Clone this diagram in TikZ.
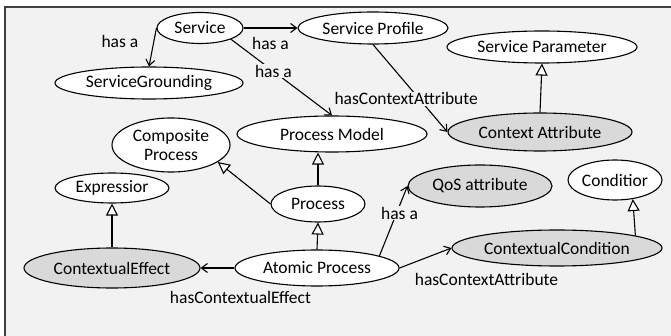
\documentclass[tikz,border=0pt]{standalone}
\usepackage{fontspec}
\setmainfont{Carlito}
\usetikzlibrary{shapes.geometric, arrows.meta}
\definecolor{paper}{HTML}{F2F2F2}
\definecolor{shade}{HTML}{D9D9D9}

\begin{document}
\begin{tikzpicture}[x=1pt, y=-1pt,
    concept/.style={ellipse, draw, fill=white, line width=1.1pt, inner sep=0pt, align=center, font=\fontsize{17.5}{19}\selectfont},
    ctx/.style={concept, fill=shade},
    rel/.style={-{Straight Barb[length=6pt,width=9pt]}, line width=1.1pt},
    isa/.style={-{Triangle[length=12pt,width=12pt,fill=white]}, line width=1.1pt},
    lbl/.style={font=\fontsize{17.5}{19}\selectfont, inner sep=1pt}]
    \useasboundingbox (0,0) rectangle (671,336);
    \fill[paper] (5,7) rectangle (671,336);
    \draw[line width=1.5pt, black!75] (5,336) -- (5,7) -- (671,7);

    % concepts
    \node[concept, minimum width=86, minimum height=31] (svc) at (200,28) {Service};
    \node[concept, minimum width=150, minimum height=32] (prof) at (373,28) {Service Profile};
    \node[concept, minimum width=188, minimum height=32] (grd) at (149,83) {ServiceGrounding};
    \node[concept, minimum width=190, minimum height=32] (spar) at (542,47) {Service Parameter};
    \node[ctx, minimum width=184, minimum height=38] (ca) at (540,132) {Context Attribute};
    \node[concept, minimum width=190, minimum height=36] (pm) at (332,134) {Process Model};
    \node[concept, minimum width=118, minimum height=54] (comp) at (171,145) {Composite\\Process};
    \node[concept, minimum width=114, minimum height=30] (expr) at (112,188) {Expressior};
    \node[concept, minimum width=94, minimum height=36] (proc) at (318,204) {Process};
    \node[ctx, minimum width=144, minimum height=42] (qos) at (480,186) {QoS attribute};
    \node[concept, minimum width=94, minimum height=40] (cond) at (615,180) {Conditior};
    \node[ctx, minimum width=210, minimum height=36] (cc) at (557,248) {ContextualCondition};
    \node[concept, minimum width=164, minimum height=36] (ap) at (317,268) {Atomic Process};
    \node[ctx, minimum width=176, minimum height=40] (ce) at (112,268) {ContextualEffect};

    % relations
    \draw[rel] (svc.west) -- node[lbl, pos=.35, left=14pt] {has a} (grd.north);
    \draw[rel] (svc.east) -- node[lbl, below=8pt] {has a} (prof.west);
    \draw[rel] (svc.-20) -- node[lbl, fill=paper, pos=.42] {has a} (pm.north);
    \draw[rel] (prof.south) -- node[lbl, fill=paper, pos=.62, xshift=-13pt] {hasContextAttribute} (ca.west);
    \draw[rel] (ap.west) -- node[lbl, pos=0, below=22pt, xshift=6pt] {hasContextualEffect} (ce.east);
    \draw[rel] (ap.11.7) -- node[lbl, fill=paper, pos=.61, xshift=3pt] {has a} (qos.west);
    \draw[rel] (ap.east) -- node[lbl, pos=1, below=24pt, xshift=35pt] {hasContextAttribute} (cc.west);

    % subclass links
    \draw[isa] (ca.north) -- (spar.south);
    \draw[isa] (proc.north) -- (proc.north |- pm.south);
    \draw[isa] (proc.west) -- (comp.-20);
    \draw[isa] (ap.north) -- (proc.south);
    \draw[isa] (ce.north) -- (expr.south);
    \draw[isa] (cc.9.5) -- (cond.-47.6);
\end{tikzpicture}
\end{document}
